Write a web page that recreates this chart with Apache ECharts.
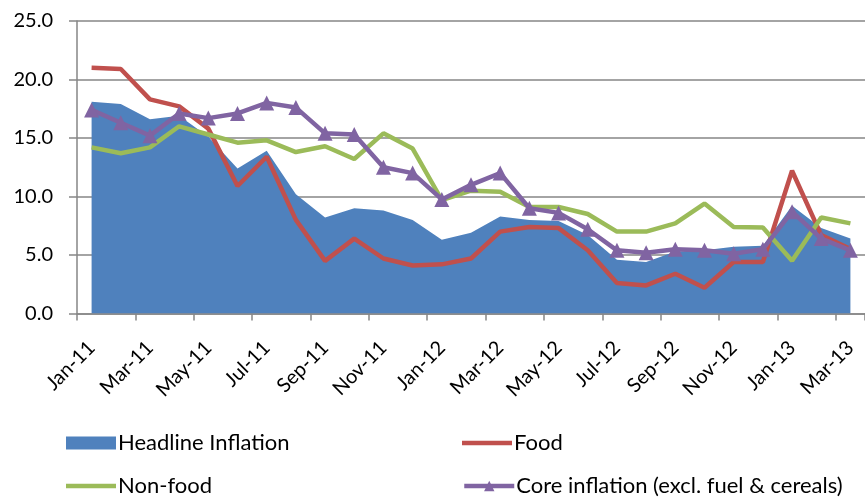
<!DOCTYPE html>
<html>
<head>
<meta charset="utf-8">
<script src="https://cdn.jsdelivr.net/npm/echarts@6/dist/echarts.min.js"></script>
<style>
  html, body { margin: 0; padding: 0; background: #fff; }
  #chart { width: 865px; height: 497px; }
</style>
</head>
<body>
<div id="chart"></div>
<script>
const months = [
  "Jan-11", "Feb-11", "Mar-11", "Apr-11", "May-11", "Jun-11", "Jul-11", "Aug-11", "Sep-11",
  "Oct-11", "Nov-11", "Dec-11", "Jan-12", "Feb-12", "Mar-12", "Apr-12", "May-12", "Jun-12",
  "Jul-12", "Aug-12", "Sep-12", "Oct-12", "Nov-12", "Dec-12", "Jan-13", "Feb-13", "Mar-13"
];
const headline = [18.1, 17.9, 16.6, 16.9, 15.1, 12.4, 13.9, 10.2, 8.2, 9.0, 8.8, 8.0, 6.3, 6.9,
  8.3, 8.0, 7.9, 6.7, 4.6, 4.4, 5.3, 5.4, 5.7, 5.8, 9.2, 7.3, 6.4];
const food = [21.0, 20.9, 18.3, 17.7, 15.8, 10.9, 13.4, 8.0, 4.5, 6.4, 4.7, 4.1, 4.2, 4.7,
  7.0, 7.4, 7.3, 5.4, 2.6, 2.4, 3.4, 2.2, 4.4, 4.4, 12.2, 6.7, 5.5];
const nonFood = [14.2, 13.7, 14.2, 16.0, 15.3, 14.6, 14.8, 13.8, 14.3, 13.2, 15.4, 14.1, 9.7, 10.5,
  10.4, 9.1, 9.1, 8.5, 7.0, 7.0, 7.7, 9.4, 7.4, 7.35, 4.5, 8.2, 7.7];
const core = [17.4, 16.3, 15.2, 17.1, 16.7, 17.1, 18.0, 17.6, 15.4, 15.3, 12.5, 12.0, 9.75, 11.0,
  12.0, 9.0, 8.6, 7.2, 5.4, 5.2, 5.5, 5.4, 5.1, 5.5, 8.7, 6.4, 5.4];

const FONT = "Lato, 'Open Sans', sans-serif";
const AXIS_GREY = "#868686";
const LINE_ICON = "path://M0,0H50V4.5H0Z"; // plain line, no marker

const chart = echarts.init(document.getElementById("chart"), null, { renderer: "canvas" });

// one legend per item so each can sit where the original puts it
function legendAt(name, left, top, icon) {
  const item = icon ? { name: name, icon: icon } : { name: name };
  return {
    data: [item],
    left: left,
    top: top,
    itemWidth: 50,
    itemHeight: 13,
    itemGap: 0,
    selectedMode: false,
    lineStyle: { width: 4.5 },
    textStyle: { fontFamily: FONT, fontSize: 22, color: "#000", padding: [0, 0, 0, -3] }
  };
}

chart.setOption({
  animation: false,
  grid: { left: 77, top: 21, width: 799, height: 292.5, containLabel: false },
  legend: [
    legendAt("Headline Inflation", 61, 427, "rect"),
    legendAt("Food", 457, 427, LINE_ICON),
    legendAt("Non-food", 61, 470, LINE_ICON),
    legendAt("Core inflation (excl. fuel & cereals)", 457, 470)
  ],
  xAxis: {
    type: "category",
    data: months,
    boundaryGap: true,
    axisLine: { lineStyle: { color: AXIS_GREY, width: 1.5 } },
    axisTick: { show: true, interval: 1, length: 7, lineStyle: { color: AXIS_GREY, width: 1.5 } },
    axisLabel: {
      interval: 1,
      rotate: 45,
      margin: 31,
      fontFamily: FONT,
      fontSize: 20,
      color: "#000"
    },
    splitLine: { show: false }
  },
  yAxis: {
    type: "value",
    min: 0,
    max: 25,
    interval: 5,
    axisLine: { show: true, lineStyle: { color: AXIS_GREY, width: 1.5 } },
    axisTick: { show: true, length: 8, lineStyle: { color: AXIS_GREY, width: 1.5 } },
    axisLabel: {
      margin: 24,
      fontFamily: FONT,
      fontSize: 20,
      color: "#000",
      formatter: (v) => v.toFixed(1)
    },
    splitLine: { lineStyle: { color: AXIS_GREY, width: 1.5 } }
  },
  series: [
    {
      name: "Headline Inflation",
      type: "line",
      data: headline,
      symbol: "none",
      color: "#4F81BD",
      lineStyle: { width: 0 },
      areaStyle: { color: "#4F81BD", opacity: 1 },
      z: 1
    },
    {
      name: "Food",
      type: "line",
      data: food,
      symbol: "none",
      color: "#C0504D",
      lineStyle: { width: 4.5, color: "#C0504D" },
      z: 2
    },
    {
      name: "Non-food",
      type: "line",
      data: nonFood,
      symbol: "none",
      color: "#9BBB59",
      lineStyle: { width: 4.5, color: "#9BBB59" },
      z: 3
    },
    {
      name: "Core inflation (excl. fuel & cereals)",
      type: "line",
      data: core,
      symbol: "triangle",
      symbolSize: 15,
      color: "#8064A2",
      itemStyle: { color: "#8064A2" },
      lineStyle: { width: 4.5, color: "#8064A2" },
      z: 4
    }
  ]
});
</script>
</body>
</html>
